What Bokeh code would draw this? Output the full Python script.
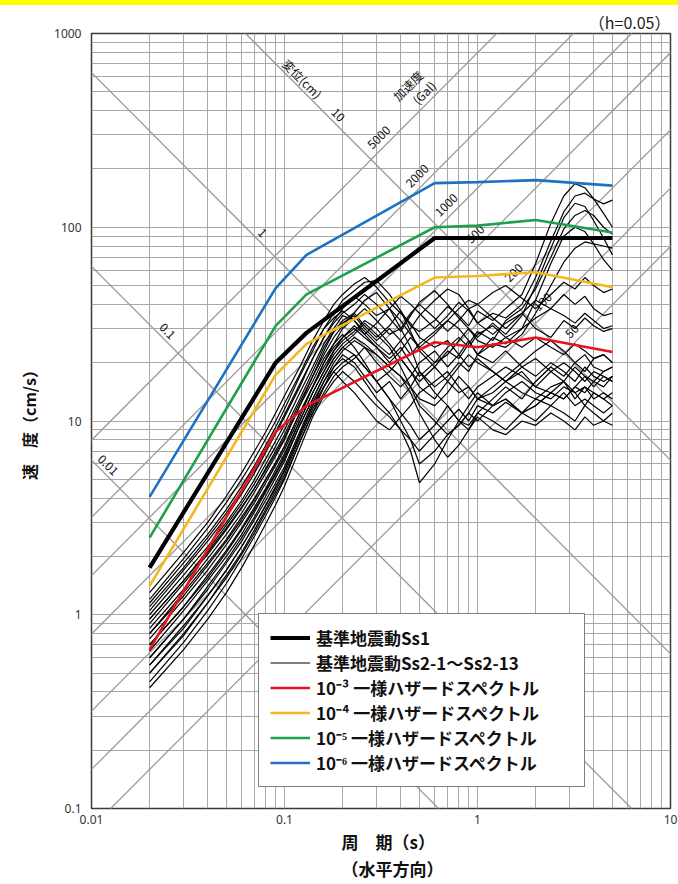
import numpy as np
from bokeh.plotting import figure
from bokeh.layouts import column
from bokeh.models import (Range1d, FixedTicker, NumeralTickFormatter, Legend,
                          LegendItem, Title, Div)
from bokeh.core.properties import value
from bokeh.embed import file_html
from bokeh.resources import INLINE

# ---------------------------------------------------------------- data
# periods (s) at which the Ss2 response spectra are tabulated
PERIOD = [0.02, 0.03, 0.04, 0.05, 0.06, 0.07, 0.08, 0.09, 0.10,
          0.12, 0.14, 0.16, 0.18, 0.20, 0.23, 0.26, 0.30,
          0.35, 0.40, 0.45, 0.50, 0.60, 0.70, 0.80, 0.90,
          1.0, 1.2, 1.4, 1.7, 2.0, 2.4, 2.8, 3.2, 3.6, 4.0, 4.5, 5.0]

# pseudo velocity response (cm/s), h = 0.05, horizontal
SS2_01 = [1.30, 2.10, 3.00, 4.10, 5.40, 7.00, 8.80, 11.0, 13.5,
          19, 26, 33, 40, 45, 51, 55, 49,
          41, 36, 32, 27, 24, 26, 22, 19,
          21, 18, 16, 18, 15, 14, 16, 13, 15, 14, 13, 14]
SS2_02 = [1.15, 1.85, 2.60, 3.50, 4.60, 5.90, 7.50, 9.30, 11.5,
          17, 23, 30, 36, 42, 47, 52, 53,
          45, 37, 29, 23, 19, 16, 14, 15,
          13, 12, 13, 11, 12, 14, 13, 15, 17, 16, 18, 19]
SS2_03 = [0.95, 1.50, 2.10, 2.80, 3.60, 4.50, 5.60, 6.80, 8.2,
          12, 17, 23, 29, 33, 36, 31, 27,
          31, 37, 31, 29, 33, 39, 35, 31,
          37, 33, 38, 45, 65, 105, 145, 168, 160, 140, 118, 100]
SS2_04 = [0.80, 1.30, 1.85, 2.45, 3.20, 4.00, 5.00, 6.10, 7.4,
          11, 15, 20, 25, 30, 34, 38, 33,
          28, 30, 36, 40, 34, 29, 33, 38,
          32, 36, 34, 40, 55, 85, 120, 145, 150, 140, 132, 138]
SS2_05 = [0.70, 1.10, 1.60, 2.15, 2.80, 3.60, 4.50, 5.60, 6.8,
          10, 14, 18, 23, 27, 31, 28, 24,
          20, 23, 27, 24, 20, 22, 26, 30,
          27, 32, 28, 35, 50, 78, 112, 133, 128, 108, 88, 72]
SS2_06 = [0.60, 0.95, 1.40, 1.90, 2.50, 3.20, 4.10, 5.10, 6.2,
          9.5, 13, 17, 21, 24, 22, 19, 16,
          18, 21, 18, 16, 19, 23, 21, 25,
          29, 26, 33, 38, 48, 70, 98, 115, 122, 115, 100, 92]
SS2_07 = [0.55, 0.85, 1.25, 1.70, 2.25, 2.90, 3.70, 4.60, 5.6,
          8.5, 12, 16, 20, 23, 26, 24, 20,
          17, 15, 17, 20, 23, 19, 22, 26,
          22, 27, 25, 30, 42, 65, 90, 100, 95, 82, 68, 60]
SS2_08 = [0.50, 0.78, 1.15, 1.55, 2.05, 2.65, 3.40, 4.20, 5.1,
          7.8, 11, 15, 19, 22, 20, 17, 14,
          16, 13, 15, 18, 15, 17, 20, 18,
          22, 25, 24, 28, 36, 50, 66, 78, 84, 82, 80, 78]
SS2_09 = [1.05, 1.70, 2.40, 3.20, 4.20, 5.40, 6.90, 8.60, 10.5,
          15, 21, 27, 33, 38, 44, 40, 35,
          38, 33, 28, 24, 28, 33, 30, 26,
          22, 20, 23, 19, 17, 20, 18, 16, 19, 17, 16, 17]
SS2_10 = [1.00, 1.60, 2.25, 3.00, 3.90, 5.00, 6.40, 7.90, 9.6,
          14, 19, 25, 30, 35, 33, 29, 25,
          22, 26, 30, 35, 42, 48, 45, 38,
          40, 34, 30, 36, 42, 38, 45, 40, 44, 38, 35, 36]
SS2_11 = [0.90, 1.45, 2.05, 2.75, 3.55, 4.50, 5.70, 7.00, 8.5,
          12.5, 17, 22, 27, 31, 36, 42, 46,
          38, 30, 24, 18, 14, 12, 10, 9.5,
          11, 10, 9, 11, 10, 12, 11, 10, 12, 11, 10, 11]
SS2_12 = [0.85, 1.35, 1.95, 2.60, 3.35, 4.30, 5.40, 6.60, 8.0,
          12, 16, 21, 25, 28, 24, 20, 16,
          13, 10, 8, 6, 7, 8.5, 9.5, 11,
          10, 12, 13, 11, 12, 14, 13, 15, 14, 16, 15, 17]
SS2_13 = [0.75, 1.20, 1.70, 2.30, 3.00, 3.80, 4.80, 5.90, 7.1,
          10.5, 15, 19, 23, 26, 29, 33, 30,
          25, 21, 18, 15, 13, 16, 19, 22,
          20, 18, 16, 19, 21, 18, 16, 19, 17, 15, 17, 16]
SS2_14 = [0.65, 1.05, 1.50, 2.00, 2.60, 3.40, 4.30, 5.30, 6.4,
          9.5, 13, 17, 21, 24, 27, 25, 22,
          19, 17, 14, 11, 8, 6.5, 7.5, 9,
          11, 13, 15, 13, 16, 19, 17, 20, 18, 21, 22, 20]
SS2_15 = [0.60, 0.95, 1.35, 1.85, 2.40, 3.10, 3.90, 4.80, 5.8,
          8.8, 12.5, 16, 19, 21, 19, 16, 13,
          11, 9, 7, 4.8, 6, 8, 10, 12,
          14, 12, 14, 16, 14, 13, 15, 14, 12, 14, 13, 12]
SS2_16 = [0.50, 0.80, 1.15, 1.60, 2.10, 2.75, 3.50, 4.35, 5.3,
          8.2, 11.5, 15, 18, 20, 22, 19, 16,
          13, 11, 9.5, 8, 9.5, 12, 10, 9,
          10.5, 9, 8.5, 10, 9.5, 11, 10, 9, 10.5, 9.5, 10, 9.5]
SS2_17 = [0.45, 0.72, 1.05, 1.45, 1.95, 2.55, 3.25, 4.05, 5.0,
          7.8, 11, 14, 17, 19, 21, 24, 22,
          19, 17, 15, 13, 12, 14, 17, 15,
          13, 14, 16, 14, 13, 15, 16, 14, 15, 13, 14, 13]
SS2_18 = [0.42, 0.66, 0.95, 1.30, 1.75, 2.30, 2.95, 3.70, 4.6,
          7.2, 10.5, 13.5, 16, 18, 16, 14, 12,
          10.5, 9, 8, 7, 8.5, 10, 11.5, 10,
          12, 11, 12.5, 11, 13, 12, 14, 12, 13, 12, 11, 12]
SS2_19 = [1.20, 1.95, 2.80, 3.80, 5.00, 6.40, 8.10, 10.0, 12.3,
          17.5, 24, 30, 34, 37, 33, 28, 32,
          38, 44, 40, 36, 30, 35, 41, 37,
          32, 28, 32, 36, 30, 27, 33, 30, 34, 31, 29, 30]
SS2_20 = [0.95, 1.50, 2.15, 2.90, 3.75, 4.75, 6.00, 7.40, 9.0,
          13, 18, 24, 29, 32, 35, 30, 26,
          30, 26, 22, 25, 29, 33, 38, 42,
          40, 46, 50, 43, 38, 45, 52, 48, 55, 50, 46, 48]
SS2_21 = [0.80, 1.25, 1.80, 2.40, 3.10, 3.95, 5.00, 6.10, 7.4,
          11, 15, 20, 24, 27, 30, 27, 24,
          21, 24, 20, 17, 20, 24, 27, 24,
          28, 31, 27, 24, 27, 24, 22, 25, 23, 21, 22, 20]
SS2_22 = [0.70, 1.10, 1.55, 2.10, 2.75, 3.50, 4.40, 5.40, 6.6,
          10, 14, 18, 22, 25, 28, 32, 28,
          24, 19, 15, 12, 10, 8.5, 9.5, 11,
          13, 15, 17, 20, 23, 26, 23, 20, 22, 19, 18, 19]
SS2_23 = [0.55, 0.88, 1.25, 1.70, 2.25, 2.90, 3.65, 4.50, 5.5,
          8.5, 12, 15, 18, 16, 14, 12, 10,
          9, 10.5, 12, 14, 16, 18, 15, 13,
          15, 17, 19, 17, 15, 18, 20, 18, 16, 18, 17, 16]
SS2_24 = [1.10, 1.75, 2.50, 3.35, 4.40, 5.60, 7.10, 8.80, 10.8,
          15.5, 21, 27, 32, 36, 40, 45, 40,
          34, 29, 35, 41, 47, 40, 34, 30,
          26, 24, 27, 30, 34, 38, 35, 32, 36, 33, 30, 31]

SS2_CURVES = [SS2_01, SS2_02, SS2_03, SS2_04, SS2_05, SS2_06, SS2_07, SS2_08,
              SS2_09, SS2_10, SS2_11, SS2_12, SS2_13, SS2_14, SS2_15, SS2_16,
              SS2_17, SS2_18, SS2_19, SS2_20, SS2_21, SS2_22, SS2_23, SS2_24]

# design spectrum Ss1 (corner points)
SS1_T = [0.02, 0.09, 0.13, 0.6, 5.0]
SS1_V = [1.75, 20.0, 28.5, 88.0, 88.0]

# uniform hazard spectra (corner points)
UHS_T = [0.02, 0.09, 0.13, 0.6, 1.0, 2.0, 5.0]
UHS_1E3 = [0.66, 8.8, 12.0, 25.5, 24.0, 27.0, 22.7]
UHS_1E4 = [1.41, 17.3, 25.0, 55.0, 56.0, 58.6, 49.0]
UHS_1E5 = [2.5, 31.0, 45.0, 100.0, 102.0, 109.0, 94.0]
UHS_1E6 = [4.06, 48.5, 72.0, 169.0, 171.0, 175.0, 164.0]

# tripartite guide lines
DISP_CM = [0.01, 0.1, 1, 10]
ACC_GAL = [50, 100, 200, 500, 1000, 2000, 5000]

X_TICKS = [0.01, 0.1, 1, 10]
Y_TICKS = [0.1, 1, 10, 100, 1000]

LEGEND_LABELS = ["基準地震動Ss1", "基準地震動Ss2-1～Ss2-13",
                 "10⁻³ 一様ハザードスペクトル", "10⁻⁴ 一様ハザードスペクトル",
                 "10⁻⁵ 一様ハザードスペクトル", "10⁻⁶ 一様ハザードスペクトル"]

# ---------------------------------------------------------------- style
FONT = "Noto Sans CJK JP"
GRID = "#a9a9a9"
GUIDE = "#9a9a9a"
RED, YELLOW, GREEN, BLUE = "#e8141c", "#f4b81c", "#1fa04c", "#1f72c0"

# label placement along the guide lines
DISP_LABEL_T = [0.0122, 0.0248, 0.077, 0.19]
ACC_LABEL_D = 12.0      # acc. labels sit where each line meets D = 12 cm
LABEL_LIFT = 1.15

p = figure(width=678, height=879, x_axis_type="log", y_axis_type="log",
           x_range=Range1d(0.01, 10), y_range=Range1d(0.1, 1000),
           output_backend="svg", toolbar_location=None,
           min_border_left=91, min_border_right=8,
           min_border_top=28, min_border_bottom=76,
           title="（h=0.05）")
p.title.align = "right"
p.title.text_font = FONT
p.title.text_font_size = "16px"
p.title.text_font_style = "normal"
p.title.text_color = "#222222"
p.title.standoff = 0
p.outline_line_color = "#3a3a3a"
p.outline_line_width = 1.5
p.background_fill_color = "white"
p.border_fill_color = "white"

x_minor = [k * 10.0 ** e for e in (-2, -1, 0) for k in range(2, 10)]
y_minor = [k * 10.0 ** e for e in (-1, 0, 1, 2) for k in range(2, 10)]
p.xaxis.ticker = FixedTicker(ticks=X_TICKS, minor_ticks=x_minor)
p.yaxis.ticker = FixedTicker(ticks=Y_TICKS, minor_ticks=y_minor)
for ax in (p.xaxis[0], p.yaxis[0]):
    ax.formatter = NumeralTickFormatter(format="0.[00]")
    ax.axis_line_color = None
    ax.major_tick_line_color = None
    ax.minor_tick_line_color = None
    ax.major_tick_out = 0
    ax.minor_tick_out = 0
    ax.major_label_text_font = "Noto Sans"
    ax.major_label_text_font_size = "12px"
    ax.major_label_text_color = "#333333"
    ax.major_label_standoff = 10
p.xaxis.major_label_standoff = 6

p.yaxis.axis_label = "速　度（cm/s）"
p.yaxis.axis_label_text_font = FONT
p.yaxis.axis_label_text_font_size = "16px"
p.yaxis.axis_label_text_font_style = "bold"
p.yaxis.axis_label_text_color = "#111111"
p.yaxis.axis_label_standoff = 10

for g in (p.xgrid[0], p.ygrid[0]):
    g.grid_line_color = GRID
    g.grid_line_width = 1
    g.minor_grid_line_color = GRID
    g.minor_grid_line_width = 1

# tripartite guide lines (straight in log-log space)
t_ends = np.array([0.001, 100.0])
guide_xs, guide_ys = [], []
for d in DISP_CM:
    guide_xs.append(t_ends)
    guide_ys.append(2 * np.pi * d / t_ends)
for a in ACC_GAL:
    guide_xs.append(t_ends)
    guide_ys.append(a * t_ends / (2 * np.pi))
p.multi_line(guide_xs, guide_ys, line_color=GUIDE, line_width=1.3)

# guide labels
lx, ly, lt, la = [], [], [], []
for d, t in zip(DISP_CM, DISP_LABEL_T):
    lx.append(t)
    ly.append(2 * np.pi * d / t * LABEL_LIFT)
    lt.append(f"{d:g}")
    la.append(-np.pi / 4)
for a in ACC_GAL:
    t = 2 * np.pi * np.sqrt(ACC_LABEL_D / a)
    lx.append(t)
    ly.append(a * t / (2 * np.pi) * 1.19)
    lt.append(f"{a:g}")
    la.append(np.pi / 4)
p.text(x=lx, y=ly, text=lt, angle=la, text_align="center",
       text_baseline="middle", text_font=value(FONT),
       text_font_size="12px", text_color="#111111")
p.text(x=[0.124], y=[586], text=["変位(cm)"], angle=[-np.pi / 4],
       text_align="center", text_baseline="middle", text_font=value(FONT),
       text_font_size="12px", text_color="#111111")
p.text(x=[0.434, 0.5265], y=[540, 497], text=["加速度", "(Gal)"],
       angle=[np.pi / 4, np.pi / 4], text_align="center",
       text_baseline="middle", text_font=value(FONT),
       text_font_size="12px", text_color="#111111")

# spectra
r_ss2 = p.multi_line([PERIOD] * len(SS2_CURVES), SS2_CURVES,
                     line_color="black", line_width=1.2)
r_e3 = p.line(UHS_T, UHS_1E3, line_color=RED, line_width=2.6)
r_e4 = p.line(UHS_T, UHS_1E4, line_color=YELLOW, line_width=2.6)
r_e5 = p.line(UHS_T, UHS_1E5, line_color=GREEN, line_width=2.6)
r_e6 = p.line(UHS_T, UHS_1E6, line_color=BLUE, line_width=2.6)
r_ss1 = p.line(SS1_T, SS1_V, line_color="black", line_width=4.2)

renderers = [r_ss1, r_ss2, r_e3, r_e4, r_e5, r_e6]
legend = Legend(items=[LegendItem(label=lab, renderers=[r])
                       for lab, r in zip(LEGEND_LABELS, renderers)],
                location=(167, 21), margin=0, padding=11, spacing=0,
                label_height=25, glyph_height=25, glyph_width=40,
                label_standoff=6, label_width=257,
                label_text_font=FONT, label_text_font_style="bold",
                label_text_font_size="17px", label_text_color="#111111",
                border_line_color="black", border_line_width=1.5,
                background_fill_color="white", background_fill_alpha=1.0)
p.add_layout(legend)

p.add_layout(Title(text="周　期（s）", align="left", offset=250, standoff=0,
                   text_font=FONT, text_font_size="17px",
                   text_font_style="bold", text_color="#111111"), "below")
p.add_layout(Title(text="（水平方向）", align="left", offset=250, standoff=0,
                   text_font=FONT, text_font_size="17px",
                   text_font_style="bold", text_color="#111111"), "below")

band = Div(width=678, height=5, margin=(0, 0, 0, 0),
           styles={"background-color": "#ffff00"})
page = column(band, p, spacing=0)

open("out.html", "w").write(file_html(page, INLINE))
